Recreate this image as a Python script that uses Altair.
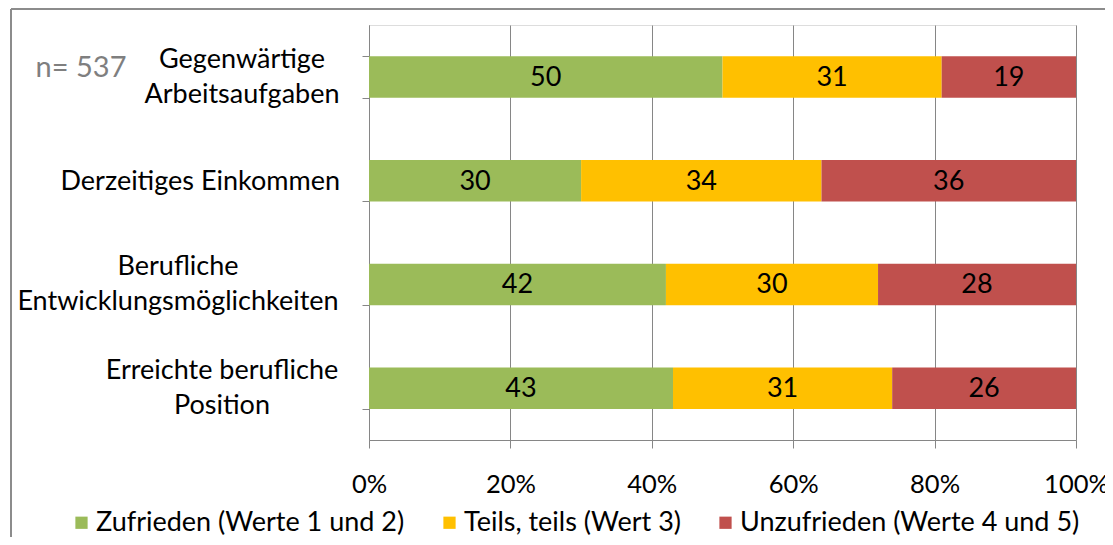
import altair as alt
import pandas as pd

categories = [
    "Gegenwärtige|Arbeitsaufgaben",
    "Derzeitiges Einkommen",
    "Berufliche|Entwicklungsmöglichkeiten",
    "Erreichte berufliche|Position",
]
series = ["Zufrieden (Werte 1 und 2)", "Teils, teils (Wert 3)", "Unzufrieden (Werte 4 und 5)"]
zufrieden = [50, 30, 42, 43]
teils = [31, 34, 30, 31]
unzufrieden = [19, 36, 28, 26]
colors = ["#9BBB59", "#FFC000", "#C0504D"]
tick_values = [0, 20, 40, 60, 80, 100]
note = "n= 537"

# label styling: centre of each multi-line category label, px left of the axis
label_center_offset = {
    "Gegenwärtige|Arbeitsaufgaben": 127,
    "Berufliche|Entwicklungsmöglichkeiten": 191,
    "Erreichte berufliche|Position": 147,
}

rows = []
for i, c in enumerate(categories):
    for j, (s, vals) in enumerate(zip(series, [zufrieden, teils, unzufrieden])):
        rows.append({"cat": c, "series": s, "value": vals[i], "order": j})
df = pd.DataFrame(rows)
cat_df = pd.DataFrame({"cat": categories})

FONT = "Lato"
FS = 27

y_scale = alt.Scale(paddingInner=0.6, paddingOuter=0.3)
y_enc = alt.Y(
    "cat:N",
    sort=categories,
    scale=y_scale,
    axis=alt.Axis(
        title=None,
        labels=False,
        tickBand="extent",
        tickSize=7,
        tickColor="#868686",
        domainColor="#868686",
        grid=False,
    ),
)

x_scale = alt.Scale(domain=[0, 100], nice=False)

bars = alt.Chart(df).mark_bar().encode(
    x=alt.X(
        "value:Q",
        stack="zero",
        scale=x_scale,
        axis=alt.Axis(
            title=None,
            values=tick_values,
            labelExpr="datum.value + '%'",
            labelFontSize=25.5,
            labelFont=FONT,
            labelColor="#000000",
            labelPadding=24,
            labelFlush=False,
            tickSize=8,
            tickColor="#868686",
            domainColor="#868686",
            grid=True,
            gridColor="#868686",
            gridWidth=1,
        ),
    ),
    y=y_enc,
    color=alt.Color(
        "series:N",
        sort=series,
        scale=alt.Scale(domain=series, range=colors),
        legend=alt.Legend(
            title=None,
            orient="none",
            direction="horizontal",
            legendX=-301,
            legendY=484,
            symbolType="square",
            symbolSize=150,
            symbolStrokeWidth=0,
            labelFontSize=FS,
            labelFont=FONT,
            labelColor="#000000",
            labelOffset=1,
            columnPadding=31,
            labelLimit=500,
        ),
    ),
    order=alt.Order("order:Q"),
)

value_labels = alt.Chart(df).transform_stack(
    stack="value", groupby=["cat"], sort=[alt.SortField("order")], as_=["x0", "x1"]
).transform_calculate(mid="(datum.x0 + datum.x1) / 2").mark_text(
    fontSize=FS, font=FONT, color="#000000", dy=1
).encode(
    x=alt.X("mid:Q", scale=x_scale),
    y=alt.Y("cat:N", sort=categories),
    text="value:Q",
)

# category labels (single-line: right-aligned; multi-line: centred lines)
offset_expr = "0"
for k, v in label_center_offset.items():
    offset_expr = f"(datum.cat == '{k}' ? {-v} : {offset_expr})"

single_labels = alt.Chart(cat_df).transform_filter(
    "indexof(datum.cat, '|') < 0"
).mark_text(
    fontSize=FS, font=FONT, color="#000000", align="right", baseline="middle", dy=1
).encode(
    x=alt.value(-29),
    y=alt.Y("cat:N", sort=categories),
    text="cat:N",
)

multi_labels = alt.Chart(cat_df).transform_filter(
    "indexof(datum.cat, '|') >= 0"
).transform_calculate(lx=offset_expr).mark_text(
    fontSize=FS, font=FONT, color="#000000", align="center", baseline="middle",
    lineBreak="|", lineHeight=35, dy=-17,
).encode(
    x=alt.X("lx:Q", scale=None),
    y=alt.Y("cat:N", sort=categories),
    text="cat:N",
)

note_df = pd.DataFrame({"t": [note]})
note_text = alt.Chart(note_df).mark_text(
    fontSize=29, font=FONT, color="#7F7F7F", align="center", baseline="middle"
).encode(text="t:N", x=alt.value(-288), y=alt.value(43))

frame_df = pd.DataFrame({"k": [0]})
frame_left = alt.Chart(frame_df).mark_rule(color="#8C8C8C", strokeWidth=2).encode(
    x=alt.value(-358), y=alt.value(-16), y2=alt.value(530)
)
frame_top = alt.Chart(frame_df).mark_rule(color="#8C8C8C", strokeWidth=2).encode(
    x=alt.value(-358), x2=alt.value(736), y=alt.value(-16)
)

chart = alt.layer(
    bars, value_labels, single_labels, multi_labels, note_text, frame_left, frame_top
).properties(
    width=707,
    height=415,
    autosize=alt.AutoSizeParams(type="none"),
    padding={"left": 361, "top": 17, "right": 29, "bottom": 97},
).configure_view(stroke=None).configure(background="white")

chart.save("out.html", embed_options={"renderer": "svg", "actions": False})
